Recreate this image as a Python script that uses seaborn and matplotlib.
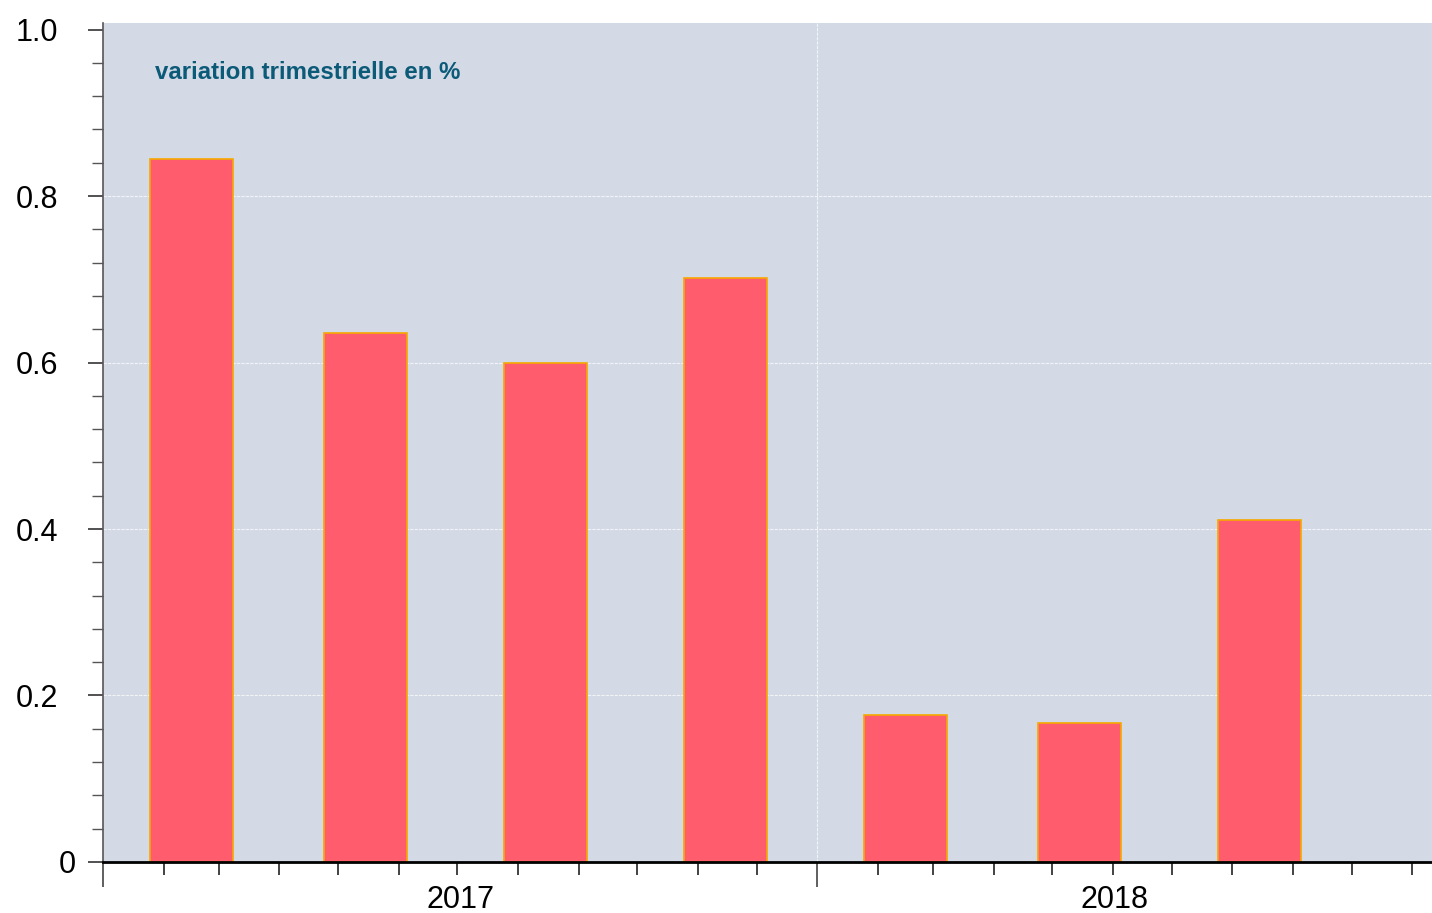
import pandas as pd
import numpy as np
import seaborn as sns
import matplotlib.pyplot as plt
import matplotlib.dates as mdates
import matplotlib.ticker as mticker
import matplotlib.transforms as mtransforms

QUARTERS = ["2017-02-15", "2017-05-15", "2017-08-15", "2017-11-15",
            "2018-02-15", "2018-05-15", "2018-08-15"]
VALUES = [0.845, 0.636, 0.600, 0.702, 0.177, 0.167, 0.411]
YEARS = ["2017", "2018"]
Y_TICKS = [0, 0.2, 0.4, 0.6, 0.8, 1.0]
Y_LABELS = ["0", "0.2", "0.4", "0.6", "0.8", "1.0"]

BG = "#d3d9e5"
BAR = "#ff5c6e"
EDGE = "#f5a800"
TITLE_COLOR = "#0b5a78"


def main():
    sns.set_style("white")
    plt.rcParams["font.family"] = ["Liberation Sans", "DejaVu Sans"]

    df = pd.DataFrame({"date": pd.to_datetime(QUARTERS), "value": VALUES})
    df["x"] = mdates.date2num(df["date"])

    fig = plt.figure(figsize=(14.32, 9.13), dpi=100)
    ax = fig.add_axes([0.072, 0.0559, 0.928, 0.919])
    ax.set_facecolor(BG)

    sns.barplot(data=df, x="x", y="value", native_scale=True, width=0.478,
                color=BAR, edgecolor=EDGE, linewidth=1.2, saturation=1,
                ax=ax, zorder=3)
    for p in ax.patches:
        p.set_facecolor(BAR)

    x0 = mdates.date2num(pd.Timestamp("2017-01-01"))
    x1 = mdates.date2num(pd.Timestamp("2018-11-11"))
    ax.set_xlim(x0, x1)
    ax.set_ylim(0, 1.008)

    # x axis: year starts long ticks, months short ticks
    year_starts = mdates.date2num(pd.to_datetime(["2017-01-01", "2018-01-01"]))
    months = mdates.date2num(pd.date_range("2017-01-01", "2018-11-01", freq="MS"))
    ax.xaxis.set_major_locator(mticker.FixedLocator(year_starts))
    ax.xaxis.set_minor_locator(mticker.FixedLocator(months))
    ax.xaxis.set_major_formatter(mticker.NullFormatter())
    ax.tick_params(axis="x", which="both", bottom=True)
    ax.tick_params(axis="x", which="major", length=18, width=1.2, color="#444444")
    ax.tick_params(axis="x", which="minor", length=9, width=1.2, color="#222222")
    ax.set_xlabel("")
    ax.set_ylabel("")

    ends = [year_starts[1], months[-1]]
    for yr, a, b in zip(YEARS, year_starts, ends):
        ax.text((a + b) / 2, -0.027, yr, transform=ax.get_xaxis_transform(),
                ha="center", va="top", fontsize=22, color="black")

    # y axis
    ax.yaxis.set_major_locator(mticker.FixedLocator(Y_TICKS))
    ax.yaxis.set_major_formatter(mticker.FixedFormatter(Y_LABELS))
    ax.yaxis.set_minor_locator(mticker.MultipleLocator(0.04))
    ax.tick_params(axis="y", which="both", left=True)
    ax.tick_params(axis="y", which="major", length=11, width=1.2, labelsize=22,
                   color="#333333", labelcolor="black", pad=21.5)
    ax.tick_params(axis="y", which="minor", length=8, width=1, color="#555555")
    fig.canvas.draw()
    zero_lab = ax.get_yticklabels()[0]
    zero_lab.set_transform(zero_lab.get_transform() +
                           mtransforms.ScaledTranslation(18 / 100, 0, fig.dpi_scale_trans))

    for v in Y_TICKS[1:-1]:
        ax.axhline(v, color="white", linestyle=(0, (3, 1)), linewidth=0.8,
                   alpha=0.7, zorder=1)
    ax.axvline(year_starts[1], color="white", linestyle=(0, (3, 1)),
               linewidth=0.8, alpha=0.7, zorder=1)

    for side in ["top", "right"]:
        ax.spines[side].set_visible(False)
    ax.spines["left"].set_color("#555555")
    ax.spines["left"].set_linewidth(1.2)
    ax.spines["bottom"].set_color("black")
    ax.spines["bottom"].set_linewidth(2)
    ax.spines["bottom"].set_zorder(5)

    ax.text(0.039, 0.941, "variation trimestrielle en %", transform=ax.transAxes,
            fontsize=17.3, fontweight="bold", color=TITLE_COLOR, va="center")

    fig.savefig("out.png", dpi=100)


if __name__ == "__main__":
    main()
